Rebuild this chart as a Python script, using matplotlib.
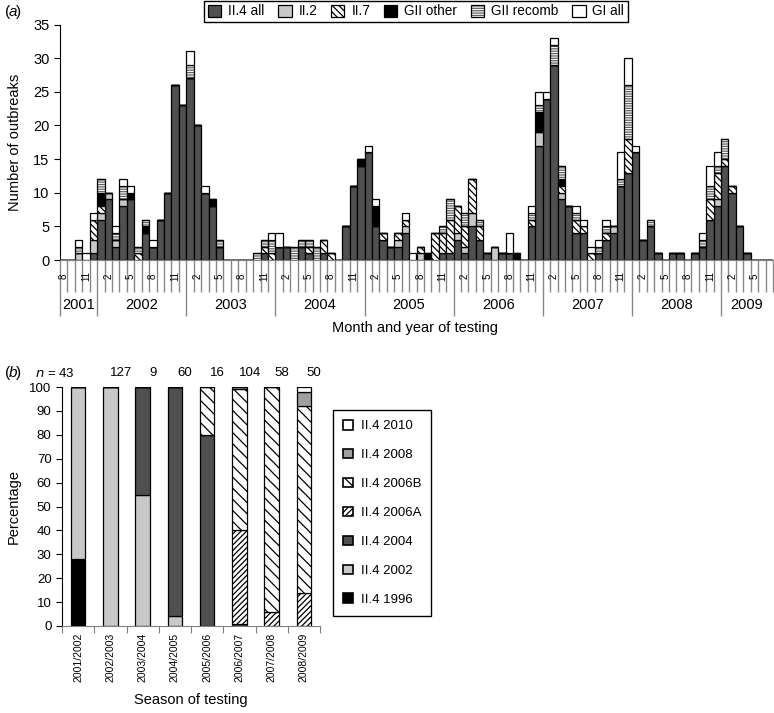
import numpy as np
import matplotlib
matplotlib.use('Agg')
import matplotlib.pyplot as plt
from matplotlib.patches import Patch
from matplotlib.legend_handler import HandlerTuple

plt.rcParams['font.family'] = ['Liberation Sans', 'DejaVu Sans']
plt.rcParams['hatch.linewidth'] = 0.9

# ---------- panel (a): monthly outbreaks, Aug 2001 .. Jul 2009 ----------
first_month = 8   # August
first_year = 2001
n_months = 96

# values per month (index 0 = Aug 2001)
ii4_all = [0, 0, 0, 0, 1, 6, 9, 2, 8, 9, 0, 4, 2, 6, 10, 26, 23, 27, 20, 10,
           8, 2, 0, 0, 0, 0, 0, 1, 0, 2, 2, 0, 2, 1, 0, 1, 0, 0, 5, 11,
           14, 16, 5, 3, 2, 2, 4, 0, 0, 0, 0, 1, 1, 3, 1, 5, 3, 1, 0, 1,
           1, 0, 0, 5, 17, 24, 29, 9, 8, 4, 4, 0, 1, 3, 4, 11, 13, 16, 3, 5,
           1, 0, 1, 1, 0, 1, 2, 6, 8, 14, 10, 5, 1, 0, 0, 0]
ii2 = [0, 0, 1, 0, 2, 1, 1, 1, 1, 0, 0, 0, 0, 0, 0, 0, 0, 0, 0, 0,
       0, 0, 0, 0, 0, 0, 0, 0, 0, 0, 0, 0, 0, 0, 0, 0, 0, 0, 0, 0,
       0, 0, 0, 0, 0, 1, 1, 0, 1, 0, 0, 0, 0, 1, 1, 2, 0, 0, 2, 0,
       0, 0, 0, 0, 2, 0, 0, 1, 0, 0, 0, 0, 0, 0, 1, 0, 0, 0, 0, 0,
       0, 0, 0, 0, 0, 0, 0, 0, 1, 0, 0, 0, 0, 0, 0, 0]
ii7 = [0, 0, 0, 0, 3, 1, 0, 0, 0, 0, 1, 0, 0, 0, 0, 0, 0, 0, 0, 0,
       0, 0, 0, 0, 0, 0, 0, 1, 1, 0, 0, 0, 0, 1, 0, 2, 1, 0, 0, 0,
       0, 0, 0, 1, 0, 1, 1, 0, 1, 0, 4, 3, 5, 4, 3, 5, 2, 0, 0, 0,
       0, 0, 0, 1, 0, 0, 0, 1, 0, 2, 1, 1, 0, 1, 0, 0, 5, 0, 0, 0,
       0, 0, 0, 0, 0, 0, 0, 3, 4, 1, 1, 0, 0, 0, 0, 0]
gii_other = [0, 0, 0, 0, 0, 2, 0, 0, 0, 1, 0, 1, 0, 0, 0, 0, 0, 0, 0, 0,
             1, 0, 0, 0, 0, 0, 0, 0, 0, 0, 0, 0, 0, 0, 0, 0, 0, 0, 0, 0,
             1, 0, 3, 0, 0, 0, 0, 0, 0, 1, 0, 0, 0, 0, 0, 0, 0, 0, 0, 0,
             0, 1, 0, 0, 3, 0, 0, 1, 0, 0, 0, 0, 0, 0, 0, 0, 0, 0, 0, 0,
             0, 0, 0, 0, 0, 0, 0, 0, 0, 0, 0, 0, 0, 0, 0, 0]
gii_recomb = [0, 0, 1, 0, 0, 2, 0, 1, 2, 0, 1, 1, 0, 0, 0, 0, 0, 2, 0, 0,
              0, 1, 0, 0, 0, 0, 1, 1, 2, 0, 0, 2, 1, 1, 2, 0, 0, 0, 0, 0,
              0, 0, 0, 0, 0, 0, 0, 0, 0, 0, 0, 1, 3, 0, 2, 0, 1, 0, 0, 0,
              0, 0, 0, 1, 1, 0, 3, 2, 0, 1, 0, 0, 1, 1, 0, 1, 8, 0, 0, 1,
              0, 0, 0, 0, 0, 0, 1, 2, 1, 3, 0, 0, 0, 0, 0, 0]
gi_all = [0, 0, 1, 1, 1, 0, 0, 1, 1, 1, 0, 0, 1, 0, 0, 0, 0, 2, 0, 1,
          0, 0, 0, 0, 0, 0, 0, 0, 1, 2, 0, 0, 0, 0, 0, 0, 0, 0, 0, 0,
          0, 1, 1, 0, 0, 0, 1, 1, 0, 0, 0, 0, 0, 0, 0, 0, 0, 0, 0, 0,
          3, 0, 0, 1, 2, 1, 1, 0, 0, 1, 1, 1, 1, 1, 0, 4, 4, 1, 0, 0,
          0, 0, 0, 0, 0, 0, 1, 3, 2, 0, 0, 0, 0, 0, 0, 0]

# ---------- panel (b): genotype share per season ----------
seasons = ['2001/2002', '2002/2003', '2003/2004', '2004/2005',
           '2005/2006', '2006/2007', '2007/2008', '2008/2009']
n_outbreaks = [43, 127, 9, 60, 16, 104, 58, 50]
v1996 = [28, 0, 0, 0, 0, 0, 0, 0]
v2002 = [72, 100, 55, 4, 0, 0, 0, 0]
v2004 = [0, 0, 45, 96, 80, 1, 0, 0]
v2006a = [0, 0, 0, 0, 0, 39, 6, 14]
v2006b = [0, 0, 0, 0, 20, 59, 94, 78]
v2008 = [0, 0, 0, 0, 0, 1, 0, 6]
v2010 = [0, 0, 0, 0, 0, 0, 0, 2]

dark = '#505050'
light = '#c8c8c8'
mid = '#a0a0a0'
stripe = '#606060'

fig = plt.figure(figsize=(7.74, 7.13), dpi=100)

# ================= panel (a) =================
ax = fig.add_axes([60 / 774, 1 - 260 / 713, 713 / 774, 235.5 / 713])
x = np.arange(n_months) + 0.5
bottom = np.zeros(n_months)
series_a = [
    ('II.4 all', ii4_all, dict(color=dark)),
    ('II.2', ii2, dict(color=light)),
    ('II.7', ii7, dict(color='white', hatch='\\' * 5)),
    ('GII other', gii_other, dict(color='black')),
    ('GII recomb', gii_recomb, dict(color='white', hatch='-' * 7, stripe=True)),
    ('GI all', gi_all, dict(color='white')),
]
handles_a = []
for name, vals, st in series_a:
    vals = np.array(vals, dtype=float)
    if st.get('stripe'):
        ax.bar(x, vals, 1.0, bottom=bottom, facecolor='white',
               edgecolor=stripe, hatch=st['hatch'], linewidth=0)
        ax.bar(x, vals, 1.0, bottom=bottom, fill=False,
               edgecolor='black', linewidth=0.9)
        h = (Patch(facecolor='white', edgecolor=stripe, hatch=st['hatch'], linewidth=0),
             Patch(fill=False, edgecolor='black', linewidth=0.9))
    else:
        ax.bar(x, vals, 1.0, bottom=bottom, facecolor=st['color'],
               edgecolor='black', hatch=st.get('hatch'), linewidth=0.9)
        h = Patch(facecolor=st['color'], edgecolor='black',
                  hatch=st.get('hatch'), linewidth=0.9)
    handles_a.append(h)
    bottom += vals

ax.set_xlim(0, n_months)
ax.set_ylim(0, 35)
ax.set_yticks(range(0, 36, 5))
ax.set_xticks([])
ax.spines['top'].set_visible(False)
ax.spines['right'].set_visible(False)
ax.spines['bottom'].set_color('#808080')
ax.tick_params(axis='y', labelsize=10.5, length=4, direction='out')
ax.set_ylabel('Number of outbreaks', fontsize=10.5, labelpad=8)

# month grid below the axis
trans = ax.get_xaxis_transform()
months = [(first_month - 1 + i) % 12 + 1 for i in range(n_months)]
year_starts = [0] + [i for i in range(n_months) if months[i] == 1]
short_lines = [b for b in range(n_months + 1) if b not in year_starts]
ax.vlines(short_lines, -0.136, 0, transform=trans, colors='#888888',
          linewidth=1, clip_on=False)
ax.vlines(year_starts, -0.238, 0, transform=trans, colors='#888888',
          linewidth=1, clip_on=False)
for i, m in enumerate(months):
    if m in (2, 5, 8, 11):
        ax.text(i + 0.5, -0.068, str(m), transform=trans, rotation=90,
                ha='center', va='center', fontsize=7)
bounds = year_starts + [n_months]
for k in range(len(bounds) - 1):
    ax.text((bounds[k] + bounds[k + 1]) / 2, -0.192, str(first_year + k),
            transform=trans, ha='center', va='center', fontsize=10.5)
fig.text(415 / 774, 1 - 328 / 713, 'Month and year of testing',
         ha='center', va='center', fontsize=10.5)

fig.legend(handles_a, [s[0] for s in series_a], loc='upper center',
           bbox_to_anchor=(416 / 774, 1 - 1 / 713), ncol=6, fontsize=9.8,
           frameon=True, fancybox=False, edgecolor='black', framealpha=1,
           handlelength=1.0, handleheight=1.0, handletextpad=0.5,
           columnspacing=1.0, borderpad=0.25, borderaxespad=0,
           handler_map={tuple: HandlerTuple(ndivide=1)})
fig.text(5 / 774, 1 - 12 / 713, '(', fontsize=11, va='center')
fig.text(9 / 774, 1 - 12 / 713, 'a', fontsize=11, va='center', style='italic')
fig.text(16 / 774, 1 - 12 / 713, ')', fontsize=11, va='center')

# ================= panel (b) =================
bx = fig.add_axes([62 / 774, 1 - 626 / 713, 258 / 774, 239 / 713])
xs = np.arange(len(seasons)) + 0.5
bot = np.zeros(len(seasons))
series_b = [
    ('II.4 1996', v1996, dict(color='black')),
    ('II.4 2002', v2002, dict(color=light)),
    ('II.4 2004', v2004, dict(color=dark)),
    ('II.4 2006A', v2006a, dict(color='white', hatch='/' * 6)),
    ('II.4 2006B', v2006b, dict(color='white', hatch='\\' * 3)),
    ('II.4 2008', v2008, dict(color=mid)),
    ('II.4 2010', v2010, dict(color='white')),
]
handles_b = []
for name, vals, st in series_b:
    vals = np.array(vals, dtype=float)
    bx.bar(xs, vals, 0.45, bottom=bot, facecolor=st['color'],
           edgecolor='black', hatch=st.get('hatch'), linewidth=0.9)
    handles_b.append(Patch(facecolor=st['color'], edgecolor='black',
                           hatch=st.get('hatch'), linewidth=1.2))
    bot += vals

bx.set_xlim(0, len(seasons))
bx.set_ylim(0, 100)
bx.set_yticks(range(0, 101, 10))
bx.set_xticks(np.arange(len(seasons) + 1))
bx.set_xticklabels([])
bx.set_xticks(xs, minor=True)
bx.set_xticklabels(seasons, minor=True, rotation=90, fontsize=7.5)
bx.tick_params(axis='x', which='minor', length=0, pad=5)
bx.tick_params(axis='x', which='major', length=5, direction='out', color='#808080')
bx.tick_params(axis='y', labelsize=9.5, length=4, direction='out')
bx.spines['top'].set_visible(False)
bx.spines['right'].set_visible(False)
bx.spines['bottom'].set_color('#808080')
bx.set_ylabel('Percentage', fontsize=10.5, labelpad=6)
bx.set_xlabel('Season of testing', fontsize=10.5, labelpad=8)

for i, n in enumerate(n_outbreaks):
    if i == 0:
        bx.text(0.40, 1.057, r'$n$ = ' + str(n), transform=bx.get_xaxis_transform(),
                ha='right', va='center', fontsize=9.5)
    else:
        bx.text(i + 0.82, 1.057, str(n), transform=bx.get_xaxis_transform(),
                ha='center', va='center', fontsize=9.5)

fig.legend(handles_b[::-1], [s[0] for s in series_b][::-1], loc='upper left',
           bbox_to_anchor=(333 / 774, 1 - 410 / 713), fontsize=9.5,
           frameon=True, fancybox=False, edgecolor='black', framealpha=1,
           handlelength=0.75, handleheight=0.75, handletextpad=0.6,
           labelspacing=1.25, borderpad=0.75, borderaxespad=0)
fig.text(5 / 774, 1 - 373 / 713, '(', fontsize=11, va='center')
fig.text(9 / 774, 1 - 373 / 713, 'b', fontsize=11, va='center', style='italic')
fig.text(16 / 774, 1 - 373 / 713, ')', fontsize=11, va='center')

fig.savefig('out.png', dpi=100)
